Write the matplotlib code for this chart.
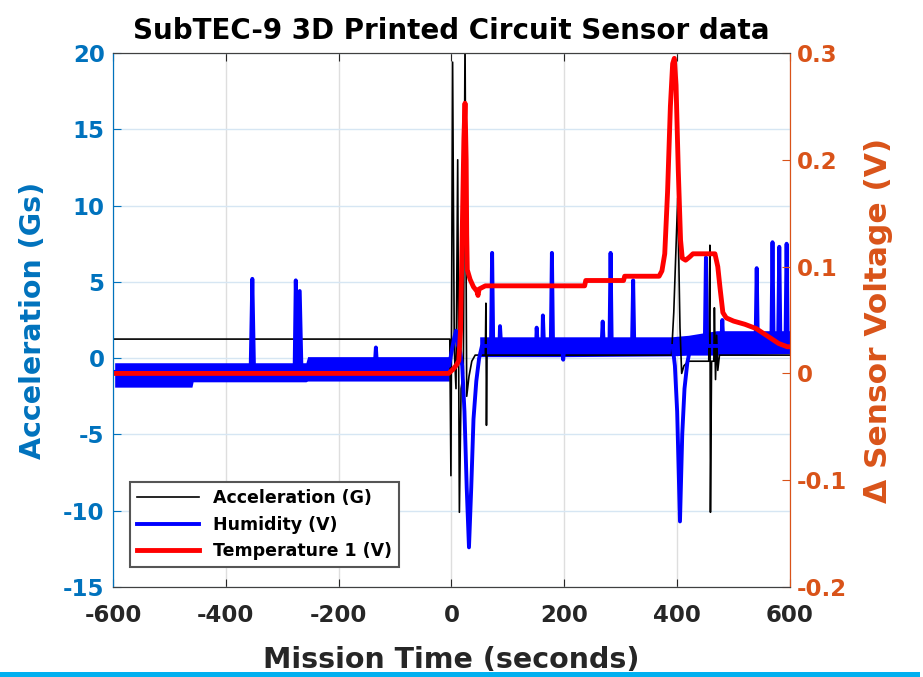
import numpy as np
import matplotlib
matplotlib.use('Agg')
import matplotlib.pyplot as plt
from matplotlib.patches import Rectangle

# Acceleration (G), left axis
acc_t = [-600, -3, -1, 2, 5, 8, 11, 14, 17, 21, 24, 27, 31, 36, 42, 60, 61, 62,
         63, 390, 394, 401, 405, 408, 412, 420, 456, 458, 459, 461, 465, 466,
         468, 470, 472, 475, 600]
acc_v = [1.25, 1.25, -7.7, 19.4, 0.5, -2.0, 13.0, -10.1, -2.0, -1.0, 21.0, -2.5,
         -1.2, -0.2, 0.2, 0.2, 3.6, -4.4, 0.2, 0.2, 3.0, 10.5, 2.0, -1.0, -0.5,
         -0.2, -0.2, 7.4, -10.1, -0.2, -0.2, 3.3, -1.4, 1.5, -0.8, 0.2, 0.2]

# Humidity (V), left axis: main trace with spikes
hum_t = [-597, -356, -353, -350, -278, -276, -273, -269, -266, -136, -134, -132,
         -4, 0, 4, 8, 11, 15, 19, 23, 27, 31, 35, 39, 44, 49, 54, 70, 72, 74,
         85, 86, 88, 150, 151, 153, 161, 162, 164, 176, 178, 180, 196, 198, 200,
         266, 268, 270, 280, 282, 284, 320, 322, 324, 392, 396, 400, 405, 409,
         413, 418, 424, 449, 451, 453, 478, 480, 482, 539, 541, 543, 567, 569,
         571, 579, 581, 583, 592, 594, 596, 600]
hum_v = [-0.9, -0.8, 5.2, -0.8, -0.7, 5.1, -0.6, 4.4, -0.6, -0.5, 0.7, -0.5,
         -0.5, 0.4, 1.2, 1.8, 0.9, 0.5, -0.5, -3.5, -8.5, -12.4, -8.5, -4.0,
         -1.5, 0.0, 0.8, 0.8, 6.9, 0.8, 0.8, 2.1, 0.8, 0.8, 2.0, 0.8, 0.8, 2.8,
         0.8, 0.8, 6.9, 0.8, 0.8, -0.1, 0.8, 0.8, 2.4, 0.8, 0.8, 6.9, 0.8, 0.8,
         5.1, 0.8, 0.8, -0.5, -3.5, -10.7, -5.0, -2.0, -0.3, 0.8, 0.8, 6.6, 0.8,
         0.8, 2.5, 0.9, 1.0, 5.9, 1.0, 1.0, 7.6, 1.0, 1.0, 7.3, 1.0, 1.0, 7.5,
         1.0, 1.0]

# Humidity noise band (before and after launch)
band_pre_t = [-597, -460, -458, -258, -255, -4]
band_pre_lo = [-1.9, -1.9, -1.55, -1.55, -1.5, -1.5]
band_pre_hi = [-0.3, -0.3, -0.3, -0.3, 0.1, 0.1]
band_post_t = [50, 200, 390, 420, 470, 600]
band_post_lo = [0.1, 0.1, 0.15, 0.2, 0.2, 0.3]
band_post_hi = [1.4, 1.4, 1.4, 1.5, 1.8, 1.8]

# Temperature 1 (V), right axis
temp_t = [-597, -5, 3, 9, 13, 16, 19, 22, 24, 26, 27, 28, 33, 39, 45, 47, 49,
          60, 236, 238, 305, 307, 368, 373, 378, 383, 388, 392, 395, 398, 402,
          406, 409, 415, 422, 428, 467, 472, 476, 481, 487, 500, 520, 540, 560,
          580, 595, 600]
temp_v = [0.0, 0.0, 0.004, 0.008, 0.012, 0.04, 0.13, 0.22, 0.253, 0.2, 0.13,
          0.097, 0.088, 0.081, 0.077, 0.073, 0.079, 0.082, 0.082, 0.087, 0.087,
          0.091, 0.091, 0.096, 0.112, 0.17, 0.25, 0.29, 0.295, 0.27, 0.19,
          0.125, 0.108, 0.106, 0.109, 0.112, 0.112, 0.1, 0.08, 0.057, 0.052,
          0.049, 0.046, 0.042, 0.035, 0.028, 0.025, 0.025]

xticks = [-600, -400, -200, 0, 200, 400, 600]
lticks = [-15, -10, -5, 0, 5, 10, 15, 20]
rticks = [-0.2, -0.1, 0, 0.1, 0.2, 0.3]
rlabels = ['-0.2', '-0.1', '0', '0.1', '0.2', '0.3']

BLUE_AX = '#0072BD'
ORANGE_AX = '#D95319'

plt.rcParams['font.family'] = 'DejaVu Sans'
plt.rcParams['font.weight'] = 'bold'
plt.rcParams['axes.labelweight'] = 'bold'
plt.rcParams['axes.titleweight'] = 'bold'
plt.rcParams['axes.unicode_minus'] = False

fig = plt.figure(figsize=(9.23, 6.77), dpi=100)
ax = fig.add_axes([0.1224, 0.1329, 0.7335, 0.7888])
ax2 = ax.twinx()

# grid
ax.xaxis.grid(True, color='#dedede', lw=1)
ax.yaxis.grid(True, color='#d6e6f3', lw=1)
ax.set_axisbelow(True)

ax.plot(acc_t, acc_v, color='black', lw=1.2, label='Acceleration (G)')
ax.fill_between(band_pre_t, band_pre_lo, band_pre_hi, color='#0000FF', lw=0)
ax.fill_between(band_post_t, band_post_lo, band_post_hi, color='#0000FF', lw=0)
ax.plot(hum_t, hum_v, color='#0000FF', lw=2.8, label='Humidity (V)')
ax2.plot(temp_t, temp_v, color='#FF0000', lw=3.5, label='Temperature 1 (V)')

ax.set_xlim(-600, 600)
ax.set_ylim(-15, 20)
ax2.set_ylim(-0.2, 0.3)
ax.set_xticks(xticks)
ax.set_yticks(lticks)
ax2.set_yticks(rticks)
ax2.set_yticklabels(rlabels)

ax.tick_params(axis='x', direction='in', length=6, top=True, labelsize=16.5,
               pad=12, colors='#262626')
ax.tick_params(axis='y', direction='in', length=6, labelsize=16.5, pad=6,
               colors=BLUE_AX)
ax2.tick_params(axis='y', direction='in', length=6, labelsize=16.5, pad=5,
                colors=ORANGE_AX)

for a in (ax, ax2):
    a.spines['top'].set_color('#404040')
    a.spines['bottom'].set_color('#404040')
    a.spines['left'].set_color(BLUE_AX)
    a.spines['right'].set_color(ORANGE_AX)

ax.set_title('SubTEC-9 3D Printed Circuit Sensor data', fontsize=20, pad=10)
ax.set_xlabel('Mission Time (seconds)', fontsize=20.5, color='#262626')
ax.xaxis.set_label_coords(0.5, -0.11)
ax.set_ylabel('Acceleration (Gs)', fontsize=20.5, color=BLUE_AX)
ax.yaxis.set_label_coords(-0.098, 0.5)
ax2.set_ylabel('\u0394 Sensor Voltage (V)', fontsize=22.5, color=ORANGE_AX)
ax2.yaxis.set_label_coords(1.11, 0.5)

h1, l1 = ax.get_legend_handles_labels()
h2, l2 = ax2.get_legend_handles_labels()
leg = ax2.legend(h1 + h2, l1 + l2, loc='lower left',
                 bbox_to_anchor=(0.025, 0.037), borderaxespad=0,
                 fontsize=12.5, handlelength=3.6, labelspacing=0.5,
                 borderpad=0.4, fancybox=False, framealpha=1,
                 edgecolor='#555555')
leg.get_frame().set_linewidth(1.5)

# cyan slide bar at the bottom
fig.add_artist(Rectangle((0, 0), 0.997, 0.007, transform=fig.transFigure,
                         color='#00B0F0', lw=0))

fig.savefig('out.png', dpi=100)
